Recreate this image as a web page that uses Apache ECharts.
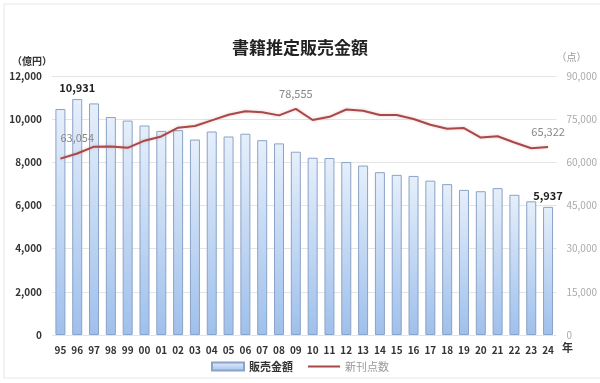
<!DOCTYPE html>
<html><head><meta charset="utf-8">
<script src="https://cdn.jsdelivr.net/npm/echarts@6/dist/echarts.min.js"></script>
<style>html,body{margin:0;padding:0;background:#fff}#c{width:600px;height:383px}</style>
</head><body><div id="c"></div>
<script>
const years = ['95','96','97','98','99','00','01','02','03','04','05','06','07','08','09','10','11','12','13','14','15','16','17','18','19','20','21','22','23','24'];
const sales = [10470,10931,10730,10100,9936,9706,9456,9490,9056,9429,9197,9326,9026,8878,8492,8213,8199,8013,7851,7544,7419,7370,7152,6991,6723,6661,6804,6497,6194,5937];
const titles = [61302,63054,65438,65513,65026,67522,69003,72055,72608,74587,76528,77722,77417,76322,78555,74714,75810,78349,77910,76465,76445,75039,73057,71661,71903,68608,69052,66885,64905,65322];
const salesLabelIdx = [1, 29];
const titlesLabelIdx = [1, 14, 29];
const font = '"Noto Sans CJK JP", "Noto Sans", sans-serif';

const chart = echarts.init(document.getElementById('c'));
chart.setOption({
  animation: false,
  textStyle: {fontFamily: font},
  title: {text: '書籍推定販売金額', left: 'center', top: 34, textStyle: {fontSize: 17, fontWeight: 'bold', color: '#222', fontFamily: font}},
  grid: {left: 52, right: 35, top: 76, bottom: 48},
  legend: {
    bottom: 6, left: 'center', itemGap: 14, itemWidth: 32, itemHeight: 8,
    data: [
      {name: '販売金額', icon: 'rect', textStyle: {fontWeight: 'bold', color: '#333', fontSize: 11}},
      {name: '新刊点数', itemStyle: {opacity: 0}, textStyle: {color: '#999', fontSize: 11}}
    ]
  },
  xAxis: {
    type: 'category', data: years, boundaryGap: true,
    axisLine: {show: false}, axisTick: {show: false},
    axisLabel: {fontWeight: 'bold', fontSize: 10, color: '#333', margin: 10, interval: 0}
  },
  yAxis: [
    {type: 'value', min: 0, max: 12000, interval: 2000,
     name: '（億円）', nameLocation: 'end', nameGap: 10,
     nameTextStyle: {fontWeight: 'bold', fontSize: 10, color: '#333', align: 'right'},
     axisLine: {show: false}, axisTick: {show: false},
     axisLabel: {fontWeight: 'bold', fontSize: 10, color: '#333', margin: 10, formatter: v => v.toLocaleString('en-US')},
     splitLine: {lineStyle: {color: '#e4e4e4'}}},
    {type: 'value', min: 0, max: 90000, interval: 15000,
     name: '（点）', nameLocation: 'end', nameGap: 14,
     nameTextStyle: {fontSize: 10, color: '#999', align: 'left'},
     axisLine: {show: false}, axisTick: {show: false},
     axisLabel: {fontSize: 10, color: '#aaa', margin: 10, formatter: v => v.toLocaleString('en-US')},
     splitLine: {show: false}}
  ],
  series: [
    {name: '販売金額', type: 'bar', barWidth: 10, yAxisIndex: 0,
     itemStyle: {
       color: new echarts.graphic.LinearGradient(0, 0, 0, 1, [{offset: 0, color: '#e6effb'}, {offset: 1, color: '#9fc0ec'}]),
       borderColor: '#8aa3c6', borderWidth: 1
     },
     data: sales.map((v, i) => salesLabelIdx.includes(i)
       ? {value: v, label: {show: true, position: 'top', distance: 6, fontWeight: 'bold', fontSize: 11, color: '#222', formatter: p => p.value.toLocaleString('en-US')}}
       : v)
    },
    {name: '新刊点数', type: 'line', yAxisIndex: 1, symbol: 'circle', symbolSize: 0, showSymbol: true,
     lineStyle: {color: '#a84848', width: 2, shadowColor: 'rgba(200,90,90,0.35)', shadowBlur: 3},
     itemStyle: {color: '#a84848'},
     data: titles.map((v, i) => titlesLabelIdx.includes(i)
       ? {value: v, label: {show: true, position: 'top', distance: 10, fontSize: 11, color: '#888', formatter: p => p.value.toLocaleString('en-US')}}
       : v)
    }
  ],
  graphic: [
    {type: 'text', left: 562, top: 342, style: {text: '年', font: 'bold 11px ' + font, fill: '#333'}},
    {type: 'rect', shape: {x: 4, y: 4, width: 640, height: 374}, style: {fill: 'none', stroke: '#e6e6e6', lineWidth: 1}, z: -1}
  ]
});
</script></body></html>
